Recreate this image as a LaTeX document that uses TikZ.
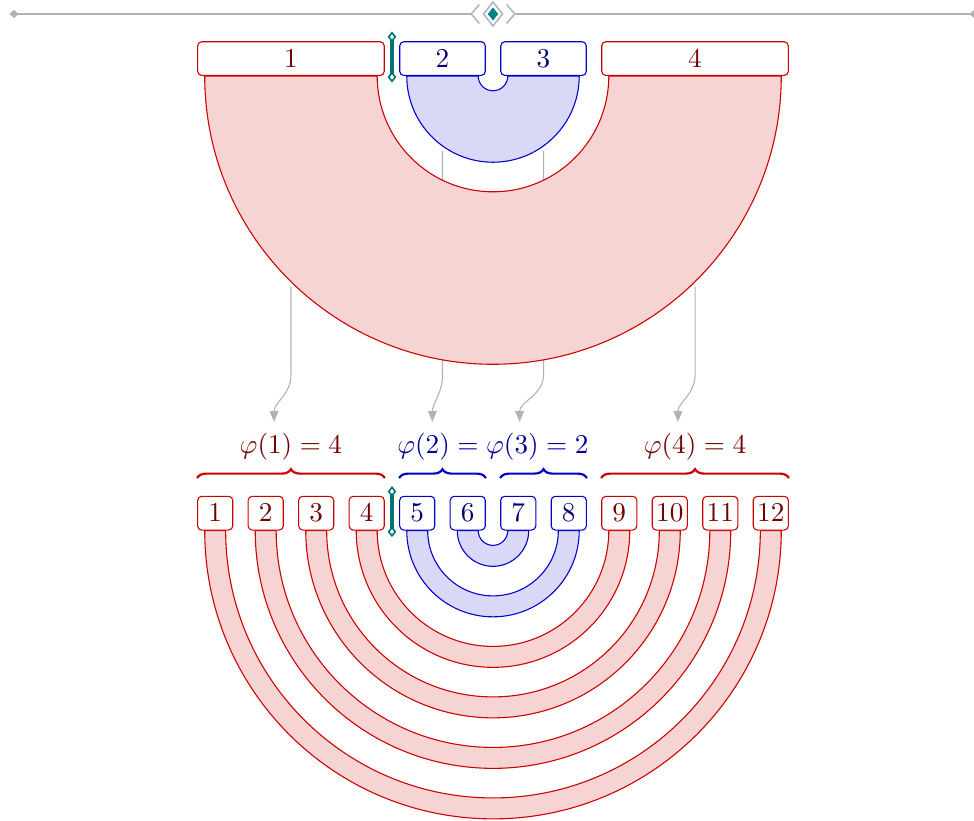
\documentclass[tikz,border=0pt]{standalone}
\usetikzlibrary{arrows.meta,calc,decorations.pathreplacing}

\colorlet{redline}{red!80!black}
\colorlet{redfill}{red!80!black!17}
\colorlet{redtext}{red!45!black}
\colorlet{blueline}{blue!80!black}
\colorlet{bluefill}{blue!80!black!15}
\colorlet{bluetext}{blue!45!black}
\colorlet{bluelabel}{blue!62!black}
\colorlet{redlabel}{red!45!black}

\begin{document}
\begin{tikzpicture}[x=1pt,y=1pt,
    cell/.style={draw=#1line, text=#1text, fill=white, rounded corners=1.5pt,
        inner sep=0pt, minimum width=12.9pt, minimum height=12.4pt, anchor=south},
    band/.style={draw=#1line, fill=#1fill},
    maparrow/.style={draw=black!30, -{Triangle[width=3.2pt,length=4pt]}},
    groupbrace/.style={draw=#1line, decorate, decoration={brace,amplitude=3.3pt}, line width=0.8pt},
    ruler/.style={draw=black!30, line width=0.55pt},
    cursor/.style={draw=teal!90!black, line width=1.2pt},
    cursorend/.style={draw=teal!90!black, fill=white, line width=0.6pt}]

    % Step between cells, half band width, half cell width, lower row
    \def\ustep{18.57}
    \def\bandw{3.85}
    \def\halfcell{6.43}
    \def\lowrow{-167.13}

    \useasboundingbox (-181.25,-273.9) rectangle (176.84,27.94);

    % Ruler on top
    \coordinate (rl) at (-176.1,22.8);
    \coordinate (rm) at (0,22.8);
    \coordinate (rr) at (176.84,22.8);
    \draw[ruler] (rl) -- ($(rm)+(-8,0)$);
    \draw[ruler] ($(rm)+(8,0)$) -- (rr);
    \fill[black!30] (rl) +(-1.7,0) -- +(0,1.5) -- +(1.7,0) -- +(0,-1.5) -- cycle;
    \fill[black!30] (rr) +(-1.7,0) -- +(0,1.5) -- +(1.7,0) -- +(0,-1.5) -- cycle;
    \draw[ruler] (rm) +(-5,3.5) -- +(-8,0) -- +(-5,-3.5);
    \draw[ruler] (rm) +(5,3.5) -- +(8,0) -- +(5,-3.5);
    \draw[ruler] (rm) +(0,4.4) -- +(3.5,0) -- +(0,-4.4) -- +(-3.5,0) -- cycle;
    \fill[teal] (rm) +(0,2.4) -- +(1.9,0) -- +(0,-2.4) -- +(-1.9,0) -- cycle;

    % Mapping arrows (drawn first, the rings cover them)
    \coordinate (bend) at (0,-109.9);
    \coordinate (t1) at (-80.5,-127.2);
    \coordinate (t2) at (-22.3,-127.2);
    \coordinate (t3) at (9.8,-127.2);
    \coordinate (t4) at (68.0,-127.2);
    \foreach \g/\lo/\hi in {1/1/4,2/5/6,3/7/8,4/9/12} {
        \pgfmathsetmacro{\xc}{((\lo+\hi)/2-6.5)*\ustep}
        \pgfmathsetmacro{\ro}{max(6.5-\lo,\hi-6.5)*\ustep+\bandw}
        \pgfmathsetmacro{\ys}{-sqrt(\ro*\ro-\xc*\xc)-1.84}
        \coordinate (s\g) at (\xc,\ys);
        \draw[maparrow] (s\g) -- (s\g |- bend) to[out=-90,in=90] (t\g);
    }

    % Rings under the merged cells
    \foreach \lo/\hi/\col in {1/4/red,5/6/blue} {
        \pgfmathsetmacro{\ro}{(6.5-\lo)*\ustep+\bandw}
        \pgfmathsetmacro{\ri}{(6.5-\hi)*\ustep-\bandw}
        \draw[band=\col] (-\ro,0) arc[start angle=180,end angle=360,radius=\ro]
            -- (\ri,0) arc[start angle=0,end angle=-180,radius=\ri] -- cycle;
    }

    % Merged cells
    \foreach \g/\lo/\hi/\col in {1/1/4/red,2/5/6/blue,3/7/8/blue,4/9/12/red} {
        \pgfmathsetmacro{\xc}{((\lo+\hi)/2-6.5)*\ustep}
        \pgfmathsetmacro{\cw}{(\hi-\lo)*\ustep+2*\halfcell}
        \node[cell=\col, minimum width=\cw pt] (T\g) at (\xc,0) {$\g$};
    }

    % Rings under the single cells
    \foreach \i/\col in {1/red,2/red,3/red,4/red,5/blue,6/blue} {
        \pgfmathsetmacro{\ro}{(6.5-\i)*\ustep+\bandw}
        \pgfmathsetmacro{\ri}{(6.5-\i)*\ustep-\bandw}
        \draw[band=\col] (-\ro,\lowrow) arc[start angle=180,end angle=360,radius=\ro]
            -- (\ri,\lowrow) arc[start angle=0,end angle=-180,radius=\ri] -- cycle;
    }

    % Single cells
    \foreach \i in {1,...,12} {
        \pgfmathsetmacro{\xc}{(\i-6.5)*\ustep}
        \ifnum\i<5 \def\col{red}\else\ifnum\i>8 \def\col{red}\else\def\col{blue}\fi\fi
        \node[cell=\col] (B\i) at (\xc,\lowrow) {$\i$};
    }

    % Braces and values
    \foreach \lo/\hi/\col in {1/4/red,5/6/blue,7/8/blue,9/12/red}
        \draw[groupbrace=\col] ([yshift=6.5pt]B\lo.north west) -- ([yshift=6.5pt]B\hi.north east);
    \node[text=redlabel] (L1) at ({-4*\ustep},-136.4) {$\varphi(1) = 4$};
    \node[text=bluelabel] (L2) at (0,-136.4) {$\varphi(2) = \varphi(3) = 2$};
    \node[text=redlabel] (L4) at ({4*\ustep},-136.4) {$\varphi(4) = 4$};

    % Cursor between the groups
    \coordinate (k1) at ($(T1.north east)!.5!(T2.north west)+(0,1.6)$);
    \coordinate (k2) at ($(T1.south east)!.5!(T2.south west)+(0,-0.4)$);
    \coordinate (k3) at ($(B4.north east)!.5!(B5.north west)+(0,1.6)$);
    \coordinate (k4) at ($(B4.south east)!.5!(B5.south west)+(0,-0.4)$);
    \draw[cursor] (k1) -- (k2);
    \draw[cursor] (k3) -- (k4);
    \foreach \k in {k1,k2,k3,k4}
        \draw[cursorend] (\k) +(0,1.5) -- +(1.2,0) -- +(0,-1.5) -- +(-1.2,0) -- cycle;

\end{tikzpicture}
\end{document}
